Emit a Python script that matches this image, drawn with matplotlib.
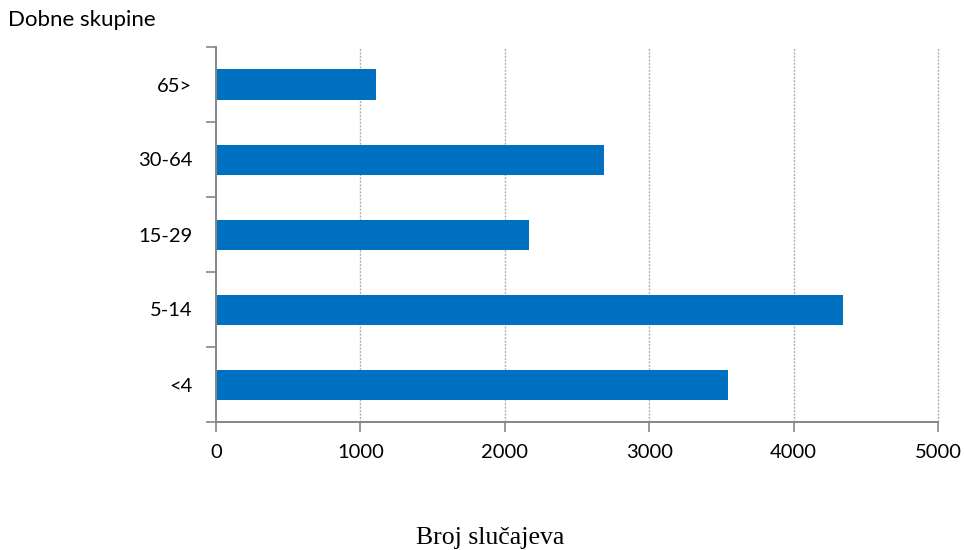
import numpy as np
import matplotlib
matplotlib.use("Agg")
import matplotlib.pyplot as pl
from matplotlib.ticker import FixedLocator

# age groups (bottom to top) and case counts
groups = ['<4', '5-14', '15-29', '30-64', '65>']
cases = [3543, 4345, 2169, 2686, 1106]
xticks = [0, 1000, 2000, 3000, 4000, 5000]

bar_col = '#0070C0'
axis_col = '#868686'

pl.rcParams['font.family'] = ['Lato', 'DejaVu Sans']

fig = pl.figure(figsize=(9.64, 5.5), dpi=100)
ax = fig.add_axes([216/964, 1-422/550, 722/964, 375/550])

y = np.arange(len(groups))
ax.barh(y, cases, height=0.4, color=bar_col, zorder=3)

ax.set_xlim(0, 5000)
ax.set_ylim(-0.5, len(groups)-0.5)

ax.set_xticks(xticks)
ax.set_xticklabels([str(v) for v in xticks], fontsize=14.5)
ax.set_yticks(y)
ax.set_yticklabels(groups, fontsize=14.5)
ax.yaxis.set_minor_locator(FixedLocator(np.arange(-0.5, len(groups), 1.0)))

ax.tick_params(axis='y', which='major', length=0, pad=17)
ax.tick_params(axis='y', which='minor', length=7, width=1.2, color=axis_col, direction='out')
ax.tick_params(axis='x', which='major', length=7, width=1.2, color=axis_col, direction='out', pad=9)

# dotted vertical gridlines (drawn unclipped so the 5000 line shows fully)
for v in xticks[1:]:
    ax.axvline(v, linestyle=(0, (1.5, 1)), color='#b0b0b0', linewidth=1.0, zorder=0, clip_on=False)

for s in ['top', 'right']:
    ax.spines[s].set_visible(False)
for s in ['left', 'bottom']:
    ax.spines[s].set_color(axis_col)
    ax.spines[s].set_linewidth(1.4)
    ax.spines[s].set_zorder(4)

fig.text(8/964, 1-20/550, 'Dobne skupine', fontsize=16, ha='left', va='center')
fig.text(490/964, 1-538/550, 'Broj slučajeva', fontsize=18.5, ha='center', va='center',
         family=['Liberation Serif', 'DejaVu Serif'])

pl.savefig('out.png', dpi=100)
pl.close()
